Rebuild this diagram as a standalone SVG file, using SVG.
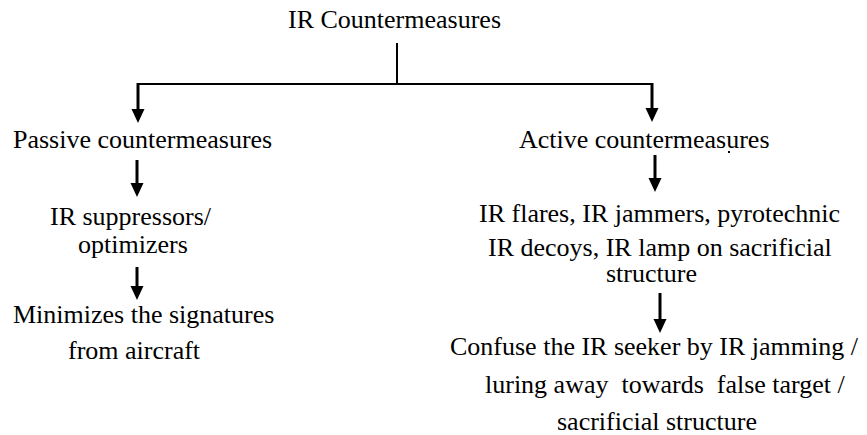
<svg xmlns="http://www.w3.org/2000/svg" width="867" height="435" viewBox="0 0 867 435">
<style>
  .ln { stroke: #000; stroke-width: 2; fill: none; }
  .ar { stroke: #000; stroke-width: 3; fill: none; marker-end: url(#ah); }
</style>
<defs>
  <marker id="ah" markerUnits="userSpaceOnUse" markerWidth="15" markerHeight="14" refX="10" refY="6.5" orient="auto">
    <path d="M0,0 L14,6.5 L0,13 Z" fill="#000"/>
  </marker>
</defs>
<rect width="867" height="435" fill="#fff"/>
<g id="connectors">
  <line class="ln" x1="397" y1="43" x2="397" y2="84"/>
  <line class="ln" x1="137" y1="84" x2="653" y2="84"/>
  <line class="ar" x1="138" y1="83" x2="138" y2="119"/>
  <line class="ar" x1="652" y1="83" x2="652" y2="118"/>
  <line class="ar" x1="137" y1="160" x2="137" y2="193"/>
  <line class="ar" x1="137" y1="267" x2="137" y2="296"/>
  <line class="ar" x1="655" y1="155" x2="655" y2="188"/>
  <line class="ar" x1="660" y1="293" x2="660" y2="329"/>
</g>
<g id="root">
  <text x="288" y="28" font-family="Liberation Serif" font-size="26" fill="#000">IR Countermeasures</text>
</g>
<g id="passive">
  <text x="13" y="148" font-family="Liberation Serif" font-size="26" fill="#000">Passive countermeasures</text>
</g>
<g id="suppressors">
  <text x="50" y="225" font-family="Liberation Serif" font-size="26" fill="#000">IR suppressors/</text>
  <text x="78" y="253" font-family="Liberation Serif" font-size="26" fill="#000">optimizers</text>
</g>
<g id="minimizes">
  <text x="13" y="323" font-family="Liberation Serif" font-size="26" fill="#000">Minimizes the signatures</text>
  <text x="68" y="359" font-family="Liberation Serif" font-size="26" fill="#000">from aircraft</text>
</g>
<g id="active">
  <text x="519" y="148" font-family="Liberation Serif" font-size="26" fill="#000">Active countermeasures</text>
  <rect x="728" y="151" width="2" height="2" fill="#000"/>
</g>
<g id="flares">
  <text x="479" y="222" font-family="Liberation Serif" font-size="26" fill="#000">IR flares, IR jammers, pyrotechnic</text>
  <text x="488" y="256" font-family="Liberation Serif" font-size="26" fill="#000">IR decoys, IR lamp on sacrificial</text>
  <text x="606" y="282" font-family="Liberation Serif" font-size="26" fill="#000">structure</text>
</g>
<g id="confuse">
  <text x="450" y="355" font-family="Liberation Serif" font-size="26" fill="#000">Confuse the IR seeker by IR jamming /</text>
  <text x="485" y="393" font-family="Liberation Serif" font-size="26" fill="#000" xml:space="preserve">luring away  towards  false target /</text>
  <text x="557" y="430" font-family="Liberation Serif" font-size="26" fill="#000">sacrificial structure</text>
</g>
</svg>
